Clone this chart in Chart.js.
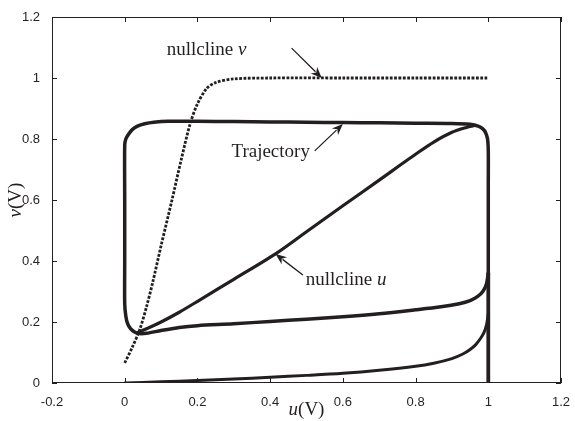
<!DOCTYPE html>
<html>
<head>
<meta charset="utf-8">
<script src="https://cdn.jsdelivr.net/npm/chart.js@4.4.0/dist/chart.umd.min.js"></script>
<style>
  html, body { margin: 0; padding: 0; background: #fff; }
  #wrap { width: 575px; height: 421px; }
</style>
</head>
<body>
<div id="wrap"><canvas id="phase"></canvas></div>
<script>
// ============================================================
// Phase plane u-v : trajectory + nullclines
// ============================================================

const xTicks = [-0.2, 0, 0.2, 0.4, 0.6, 0.8, 1, 1.2];
const xTickLabels = ['-0.2', '0', '0.2', '0.4', '0.6', '0.8', '1', '1.2'];
const yTicks = [0, 0.2, 0.4, 0.6, 0.8, 1, 1.2];
const yTickLabels = ['0', '0.2', '0.4', '0.6', '0.8', '1', '1.2'];

// limit cycle (starts on the right branch, goes up, left, down, back right)
const orbitU = [1.0, 1.0, 1.0, 1.0, 0.998, 0.993, 0.985, 0.972, 0.95, 0.9, 0.8, 0.7, 0.6, 0.5, 0.4, 0.3, 0.2,
                0.12, 0.08, 0.055, 0.035, 0.02, 0.01, 0.003, 0.0, 0.0, 0.0, 0.0,
                0.003, 0.008, 0.016, 0.027, 0.04, 0.06, 0.1, 0.15, 0.2, 0.3, 0.4, 0.5, 0.6, 0.7, 0.8,
                0.87, 0.92, 0.95, 0.97, 0.985, 0.995, 1.0];
const orbitV = [0.36, 0.5, 0.65, 0.76, 0.8, 0.82, 0.833, 0.842, 0.848, 0.851, 0.852, 0.853, 0.854, 0.855, 0.856, 0.857, 0.858,
                0.858, 0.855, 0.85, 0.842, 0.83, 0.815, 0.8, 0.78, 0.6, 0.4, 0.26,
                0.22, 0.195, 0.178, 0.167, 0.162, 0.163, 0.172, 0.182, 0.188, 0.194, 0.202, 0.209, 0.217, 0.227, 0.24,
                0.25, 0.26, 0.27, 0.283, 0.3, 0.325, 0.36];

// initial transient along the bottom
const startU = [0.0, 0.1, 0.2, 0.3, 0.4, 0.5, 0.6, 0.7, 0.8, 0.85, 0.9, 0.93, 0.95, 0.965, 0.978, 0.988, 0.995, 1.0];
const startV = [0.0, 0.004, 0.008, 0.013, 0.019, 0.025, 0.032, 0.042, 0.055, 0.065, 0.08, 0.095, 0.11, 0.125, 0.145, 0.165, 0.19, 0.225];

// lower part of the right branch (u = 1)
const rightU = [1.0, 1.0];
const rightV = [0.0, 0.36];

// nullcline u
const nullUu = [0.035, 0.06, 0.1, 0.15, 0.206, 0.3, 0.418, 0.5, 0.6, 0.7, 0.756, 0.8, 0.85, 0.9, 0.94, 0.965];
const nullUv = [0.165, 0.178, 0.2, 0.232, 0.272, 0.34, 0.426, 0.496, 0.581, 0.665, 0.713, 0.75, 0.79, 0.822, 0.838, 0.845];

// nullcline v
const nullVu = [0.0, 0.02, 0.041, 0.06, 0.077, 0.1, 0.13, 0.155, 0.18, 0.2, 0.225, 0.25, 0.3, 0.4, 0.6, 0.8, 1.0];
const nullVv = [0.066, 0.115, 0.174, 0.25, 0.33, 0.45, 0.6, 0.73, 0.85, 0.915, 0.965, 0.985, 0.997, 1.0, 1.0, 1.0, 1.0];

const INK = '#231f20';

// labels with arrows: text position and arrow start / tip, in data units
const notes = [
    { parts: [['nullcline ', false], ['v', true]], tx: 0.225, ty: 1.092, align: 'center', from: [0.459, 1.098], tip: [0.542, 1.0] },
    { parts: [['Trajectory', false]], tx: 0.4015, ty: 0.757, align: 'center', from: [0.5226, 0.761], tip: [0.6, 0.849] },
    { parts: [['nullcline ', false], ['u', true]], tx: 0.498, ty: 0.338, align: 'left', from: [0.49, 0.354], tip: [0.415, 0.423] }
];

function toPoints(us, vs) {
    return us.map((u, i) => ({ x: u, y: vs[i] }));
}

function lineSet(label, us, vs, width, dash) {
    return {
        label: label,
        data: toPoints(us, vs),
        showLine: true,
        borderColor: INK,
        backgroundColor: INK,
        borderWidth: width,
        borderDash: dash || [],
        borderCapStyle: dash ? 'butt' : 'round',
        pointRadius: 0,
        tension: 0.3,
        fill: false
    };
}

// draw mixed italic / upright serif text
function drawParts(ctx, parts, x, y, size, align) {
    const fontOf = (it) => (it ? 'italic ' : '') + size + 'px "Liberation Serif", "Times New Roman", serif';
    let total = 0;
    parts.forEach(([t, it]) => { ctx.font = fontOf(it); total += ctx.measureText(t).width; });
    let cx = align === 'center' ? x - total / 2 : x;
    ctx.textBaseline = 'middle';
    ctx.textAlign = 'left';
    parts.forEach(([t, it]) => {
        ctx.font = fontOf(it);
        ctx.fillText(t, cx, y);
        cx += ctx.measureText(t).width;
    });
}

function drawArrow(ctx, x0, y0, x1, y1) {
    const ang = Math.atan2(y1 - y0, x1 - x0);
    const len = 11, half = 4.5;
    ctx.beginPath();
    ctx.moveTo(x0, y0);
    ctx.lineTo(x1 - Math.cos(ang) * len * 0.8, y1 - Math.sin(ang) * len * 0.8);
    ctx.stroke();
    ctx.beginPath();
    ctx.moveTo(x1, y1);
    ctx.lineTo(x1 - Math.cos(ang) * len - Math.sin(ang) * half, y1 - Math.sin(ang) * len + Math.cos(ang) * half);
    ctx.lineTo(x1 - Math.cos(ang) * len * 0.7, y1 - Math.sin(ang) * len * 0.7);
    ctx.lineTo(x1 - Math.cos(ang) * len + Math.sin(ang) * half, y1 - Math.sin(ang) * len - Math.cos(ang) * half);
    ctx.closePath();
    ctx.fill();
}

// box, inward ticks, axis titles and the annotations
const framePlugin = {
    id: 'frame',
    afterDraw(chart) {
        const { ctx, chartArea: a, scales: { x, y } } = chart;
        ctx.save();
        ctx.strokeStyle = INK;
        ctx.fillStyle = INK;
        ctx.lineWidth = 1;
        ctx.strokeRect(a.left + 0.5, a.top + 0.5, a.right - a.left - 1, a.bottom - a.top - 1);

        const tl = 5;
        ctx.beginPath();
        xTicks.forEach(v => {
            const px = Math.round(x.getPixelForValue(v)) + 0.5;
            ctx.moveTo(px, a.bottom); ctx.lineTo(px, a.bottom - tl);
            ctx.moveTo(px, a.top); ctx.lineTo(px, a.top + tl);
        });
        yTicks.forEach(v => {
            const py = Math.round(y.getPixelForValue(v)) + 0.5;
            ctx.moveTo(a.left, py); ctx.lineTo(a.left + tl, py);
            ctx.moveTo(a.right, py); ctx.lineTo(a.right - tl, py);
        });
        ctx.stroke();

        // axis titles
        drawParts(ctx, [['u', true], ['(V)', false]], (a.left + a.right) / 2, 410, 19, 'center');
        ctx.save();
        ctx.translate(16, (a.top + a.bottom) / 2);
        ctx.rotate(-Math.PI / 2);
        drawParts(ctx, [['v', true], ['(V)', false]], 0, 0, 19, 'center');
        ctx.restore();

        // annotations
        ctx.lineWidth = 1.3;
        notes.forEach(n => {
            drawParts(ctx, n.parts, x.getPixelForValue(n.tx), y.getPixelForValue(n.ty), 19, n.align);
            drawArrow(ctx,
                x.getPixelForValue(n.from[0]), y.getPixelForValue(n.from[1]),
                x.getPixelForValue(n.tip[0]), y.getPixelForValue(n.tip[1]));
        });
        ctx.restore();
    }
};

const tickFont = { family: '"Liberation Sans", Arial, sans-serif', size: 13 };

new Chart(document.getElementById('phase'), {
    type: 'scatter',
    data: {
        datasets: [
            lineSet('nullcline v', nullVu, nullVv, 2.8, [2.8, 1.5]),
            lineSet('nullcline u', nullUu, nullUv, 3.2),
            lineSet('start', startU, startV, 3),
            lineSet('right branch', rightU, rightV, 3.8),
            lineSet('Trajectory', orbitU, orbitV, 3.5)
        ]
    },
    options: {
        responsive: true,
        maintainAspectRatio: false,
        animation: false,
        layout: { padding: { top: 17, right: 14, left: 0, bottom: 0 } },
        plugins: {
            legend: { display: false },
            tooltip: { enabled: false }
        },
        scales: {
            x: {
                type: 'linear',
                min: -0.2,
                max: 1.2,
                afterBuildTicks: (s) => { s.ticks = xTicks.map(v => ({ value: v })); },
                afterFit: (s) => { s.height = 38; },
                grid: { display: false },
                border: { display: false },
                ticks: {
                    color: INK,
                    font: tickFont,
                    padding: 4,
                    maxRotation: 0,
                    callback: (v, i) => xTickLabels[i]
                }
            },
            y: {
                type: 'linear',
                min: 0,
                max: 1.2,
                afterBuildTicks: (s) => { s.ticks = yTicks.map(v => ({ value: v })); },
                afterFit: (s) => { s.width = 52; },
                grid: { display: false },
                border: { display: false },
                ticks: {
                    color: INK,
                    font: tickFont,
                    padding: 4,
                    callback: (v, i) => yTickLabels[i]
                }
            }
        }
    },
    plugins: [framePlugin]
});
</script>
</body>
</html>
